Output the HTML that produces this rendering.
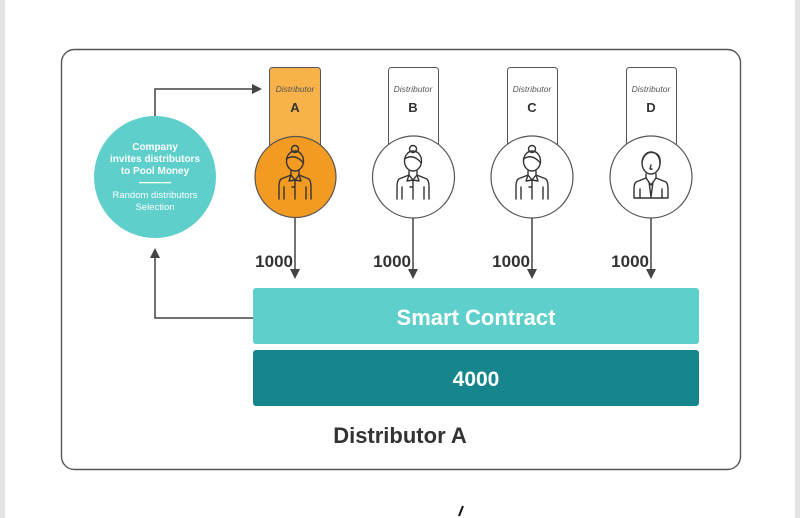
<!DOCTYPE html>
<html><head><meta charset="utf-8"><style>
html,body{margin:0;padding:0;background:#fff;width:800px;height:518px;overflow:hidden}
text{font-family:"Liberation Sans",sans-serif}
</style></head><body>
<svg width="800" height="518" viewBox="0 0 800 518" xmlns="http://www.w3.org/2000/svg">
<defs>
<g id="fem" fill="none" stroke="#333" stroke-width="1.4" stroke-linecap="round" stroke-linejoin="round">
  <circle cx="0" cy="-28" r="3.5"/>
  <ellipse cx="0" cy="-16" rx="8.5" ry="10"/>
  <path d="M-8.5,-18 Q0,-24 8.5,-14"/>
  <path d="M-4,-6 L-4,-2 L-14,2 Q-16,4 -16,10 L-16,22 M4,-6 L4,-2 L14,2 Q16,4 16,10 L16,22"/>
  <path d="M-4,-2 L0,3 L4,-2 M-4,-2 L-6,4 L0,3 L6,4 L4,-2 M0,3 L0,22 M-11,10 L-11,22 M11,10 L11,22 M-3,10 L-1,10"/>
</g>
<g id="male" fill="none" stroke="#333" stroke-width="1.4" stroke-linecap="round" stroke-linejoin="round">
  <ellipse cx="0" cy="-14" rx="9" ry="11"/>
  <path d="M-9,-15 Q-6,-27 4,-24 Q10,-22 9,-13"/>
  <path d="M0,-12 L-1,-8 L1,-8"/>
  <path d="M-5,-3 L-5,1 L-15,5 Q-17,7 -17,12 L-17,21 L17,21 L17,12 Q17,7 15,5 L5,1 L5,-3"/>
  <path d="M-5,1 L0,8 L5,1 M-2,5 L0,20 L2,5 M-11,12 L-11,21 M11,12 L11,21"/>
</g>
<marker id="ar" markerWidth="10" markerHeight="10" refX="8" refY="5" orient="auto" markerUnits="userSpaceOnUse">
  <path d="M0,0 L10,5 L0,10 Z" fill="#444"/>
</marker>
</defs>
<rect x="0" y="0" width="5" height="518" fill="#e4e4e4"/>
<rect x="795" y="0" width="5" height="518" fill="#e4e4e4"/>
<rect x="61.5" y="49.5" width="679" height="420" rx="13" fill="#fff" stroke="#555" stroke-width="1.4"/>

<polyline points="155,117 155,89 260,89" fill="none" stroke="#444" stroke-width="1.5" marker-end="url(#ar)"/>
<polyline points="253,318 155,318 155,250" fill="none" stroke="#444" stroke-width="1.5" marker-end="url(#ar)"/>

<circle cx="155" cy="177" r="61" fill="#5ecfca"/>
<g fill="#fff" font-size="10" text-anchor="middle">
<text x="155" y="150" font-weight="bold">Company</text>
<text x="155" y="162" font-weight="bold">invites distributors</text>
<text x="155" y="174" font-weight="bold">to Pool Money</text>
<rect x="139" y="182" width="32" height="1.3"/>
<text x="155" y="198" font-size="9.5">Random distributors</text>
<text x="155" y="210" font-size="9.5">Selection</text>
</g>

<rect x="269.5" y="67.5" width="51" height="80" rx="3" fill="#f7b24a" stroke="#555" stroke-width="1"/>
<rect x="388.5" y="67.5" width="50" height="80" rx="3" fill="#fff" stroke="#555" stroke-width="1"/>
<rect x="507.5" y="67.5" width="50" height="80" rx="3" fill="#fff" stroke="#555" stroke-width="1"/>
<rect x="626.5" y="67.5" width="50" height="80" rx="3" fill="#fff" stroke="#555" stroke-width="1"/>
<g font-size="8.5" font-style="italic" fill="#555" text-anchor="middle">
<text x="295" y="92">Distributor</text><text x="413" y="92">Distributor</text><text x="532" y="92">Distributor</text><text x="651" y="92">Distributor</text>
</g>
<g font-size="13" font-weight="bold" fill="#333" text-anchor="middle">
<text x="295" y="112">A</text><text x="413" y="112">B</text><text x="532" y="112">C</text><text x="651" y="112">D</text>
</g>

<circle cx="295.5" cy="177" r="40.5" fill="#f39a22" stroke="#555" stroke-width="1.2"/>
<circle cx="413.5" cy="177" r="41" fill="#fff" stroke="#555" stroke-width="1.2"/>
<circle cx="532" cy="177" r="41" fill="#fff" stroke="#555" stroke-width="1.2"/>
<circle cx="651" cy="177" r="41" fill="#fff" stroke="#555" stroke-width="1.2"/>
<use href="#fem" x="295" y="177"/>
<use href="#fem" x="413" y="177"/>
<use href="#fem" x="532" y="177"/>
<use href="#male" x="651" y="177"/>

<g stroke="#444" stroke-width="1.5" marker-end="url(#ar)">
<line x1="295" y1="218" x2="295" y2="277"/>
<line x1="413" y1="218" x2="413" y2="277"/>
<line x1="532" y1="218" x2="532" y2="277"/>
<line x1="651" y1="218" x2="651" y2="277"/>
</g>
<g font-size="17" font-weight="bold" fill="#333" text-anchor="end">
<text x="293" y="267">1000</text><text x="411" y="267">1000</text><text x="530" y="267">1000</text><text x="649" y="267">1000</text>
</g>

<rect x="253" y="288" width="446" height="56" rx="3" fill="#5ecfca"/>
<rect x="253" y="350" width="446" height="56" rx="3" fill="#17868c"/>
<text x="476" y="325" font-size="22" font-weight="bold" fill="#fff" text-anchor="middle">Smart Contract</text>
<text x="476" y="386" font-size="21" font-weight="bold" fill="#fff" text-anchor="middle">4000</text>
<text x="400" y="443" font-size="22" font-weight="bold" fill="#333" text-anchor="middle">Distributor A</text>

<line x1="463" y1="506" x2="459" y2="516" stroke="#111" stroke-width="2"/>
</svg>
</body></html>
